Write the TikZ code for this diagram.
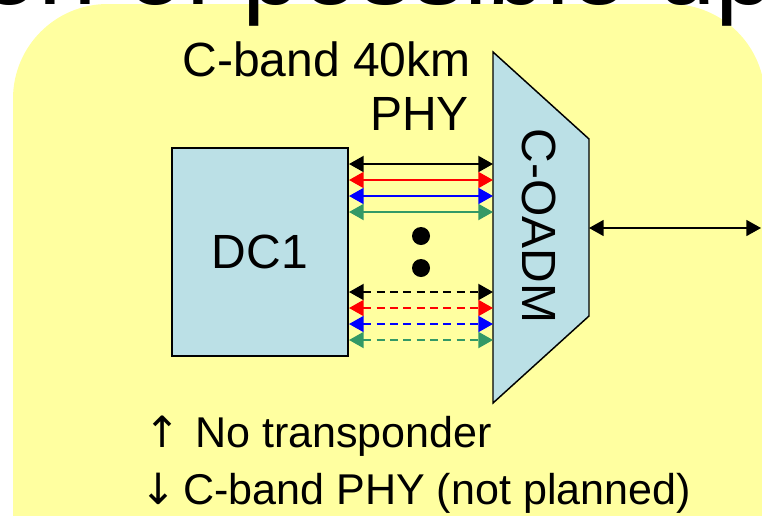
\documentclass[tikz,border=0pt]{standalone}
\usepackage{fontspec}
\setmainfont{Liberation Sans}
\newfontfamily\symfont{DejaVu Sans}
\usetikzlibrary{positioning,arrows.meta,calc}
\definecolor{pyellow}{RGB}{255,255,160}
\definecolor{lblue}{RGB}{187,224,230}
\definecolor{lgreen}{RGB}{51,153,102}

\begin{document}
\begin{tikzpicture}[x=0.75pt,y=-0.75pt,>={Triangle[length=11pt,width=12pt]},
    dc/.style={rectangle,draw=black,fill=lblue,line width=1.5pt,
               minimum width=132pt,minimum height=156pt,font=\fontsize{36}{40}\selectfont},
    lbl/.style={inner sep=0pt,font=\fontsize{36}{40}\selectfont},
    note/.style={inner sep=0pt,anchor=base west,font=\fontsize{32.3}{36}\selectfont},
    ln/.style={<->,line width=1.5pt},
    dl/.style={ln,dash pattern=on 6pt off 4pt}]
    \useasboundingbox (0,0) rectangle (762,515);
    \clip (0,0) rectangle (762,515);
    \fill[pyellow,rounded corners=71pt] (13,4) rectangle (765,640);
    \node[anchor=base west,inner sep=0pt,font=\fontsize{78.75}{80}\selectfont] (title) at (-20,4) {on of possible up};
    % DC and mux
    \node[dc] (dc1) at (260,252) {DC1};
    \draw[fill=lblue,line width=1.1pt] (493,52) -- (589,139) -- (589,316) -- (493,403) -- cycle;
    \node[lbl,rotate=-90] (oadm) at (539,226) {C-OADM};
    \coordinate (in) at (493,228);
    \coordinate (out) at (589,228);
    \coordinate (fiber) at (761,228);
    % wavelengths
    \foreach \c/\yy in {black/164,red/180,blue/196,lgreen/212}
      \draw[ln,\c] (dc1.east |- 0,\yy) -- (in |- 0,\yy);
    \foreach \c/\yy in {black/292,red/308,blue/324,lgreen/340}
      \draw[dl,\c] (dc1.east |- 0,\yy) -- (in |- 0,\yy);
    \fill (421,236) circle[radius=6.75pt];
    \fill (421,268) circle[radius=6.75pt];
    \draw[ln,line width=1.2pt] (out) -- (fiber);
    % labels
    \node[lbl,anchor=base east] (cband) at (471,76) {C-band 40km};
    \node[lbl,anchor=base east] (phy) at (469,130) {PHY};
    \node[note] (uparr) at (144,447) {\symfont ↑};
    \node[note] (notx) at (195,447) {No transponder};
    \node[note] (dnarr) at (140,504) {\symfont ↓};
    \node[note] (nophy) at (183,504) {C-band PHY (not planned)};
  \end{tikzpicture}
\end{document}
